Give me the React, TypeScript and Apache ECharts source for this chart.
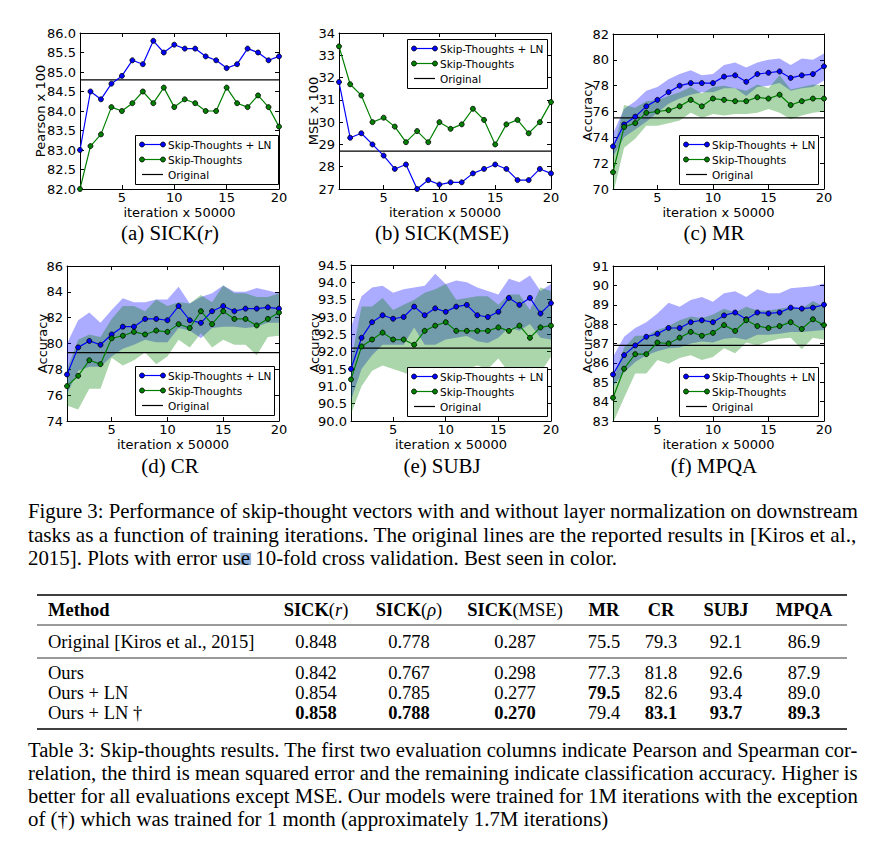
import React, { useEffect, useRef } from "react";
import * as echarts from "echarts";

// ---------------- data ----------------
const iterations = [1, 2, 3, 4, 5, 6, 7, 8, 9, 10, 11, 12, 13, 14, 15, 16, 17, 18, 19, 20];
const xTickValues = [5, 10, 15, 20];
const seriesNames = ["Skip-Thoughts + LN", "Skip-Thoughts", "Original"];

// (a) SICK(r)
const sickR_LN = [83.0, 84.5, 84.3, 84.7, 84.9, 85.3, 85.2, 85.8, 85.5, 85.7, 85.6, 85.6, 85.4, 85.3, 85.1, 85.2, 85.6, 85.5, 85.3, 85.4];
const sickR_ST = [82.0, 83.1, 83.4, 84.1, 84.0, 84.2, 84.5, 84.2, 84.6, 84.1, 84.3, 84.2, 84.0, 84.0, 84.6, 84.2, 84.1, 84.4, 84.1, 83.6];
const sickR_orig = 84.8;

// (b) SICK(MSE)
const sickMSE_LN = [31.8, 29.3, 29.5, 29.0, 28.5, 27.9, 28.1, 27.0, 27.4, 27.2, 27.3, 27.3, 27.7, 27.9, 28.1, 27.9, 27.4, 27.4, 27.9, 27.7];
const sickMSE_ST = [33.4, 31.7, 31.2, 30.0, 30.2, 29.8, 29.1, 29.6, 29.1, 30.0, 29.7, 29.9, 30.6, 30.1, 29.0, 29.9, 30.1, 29.5, 30.0, 30.9];
const sickMSE_orig = 28.7;

// (c) MR
const mr_LN = [73.3, 75.0, 75.6, 76.4, 76.9, 77.5, 78.0, 78.2, 78.2, 78.2, 78.7, 78.8, 78.3, 78.9, 79.0, 79.1, 78.6, 78.8, 78.9, 79.5];
const mr_LN_hi = [74.3, 76.2, 76.8, 77.6, 77.9, 78.5, 78.9, 79.2, 78.8, 78.9, 79.6, 79.8, 79.4, 79.8, 80.0, 80.1, 79.6, 80.1, 80.0, 80.5];
const mr_LN_lo = [72.5, 74.0, 74.6, 75.2, 75.9, 76.6, 77.0, 77.3, 77.5, 77.5, 77.8, 77.8, 77.2, 77.9, 78.0, 78.2, 77.6, 77.8, 77.9, 78.4];
const mr_ST = [71.3, 74.8, 75.1, 75.9, 76.0, 76.1, 76.4, 76.9, 76.4, 77.0, 76.9, 76.8, 76.8, 77.1, 77.0, 77.3, 76.5, 76.8, 77.0, 77.0];
const mr_ST_hi = [72.8, 76.5, 76.3, 76.8, 76.9, 77.2, 77.5, 77.9, 77.4, 77.9, 78.0, 77.8, 77.6, 78.1, 77.8, 78.8, 77.7, 77.9, 78.1, 78.0];
const mr_ST_lo = [69.6, 73.2, 73.9, 74.9, 74.9, 75.1, 75.3, 75.9, 75.5, 75.8, 75.7, 75.8, 75.8, 75.9, 76.2, 75.9, 75.4, 75.7, 75.9, 76.0];
const mr_orig = 75.5;

// (d) CR
const cr_LN = [77.6, 79.7, 80.2, 79.9, 80.7, 81.3, 81.3, 81.9, 81.9, 81.8, 82.9, 81.8, 81.6, 82.5, 82.9, 82.5, 82.7, 82.7, 82.8, 82.7];
const cr_LN_hi = [80.0, 81.8, 82.4, 81.6, 82.6, 83.5, 83.2, 83.2, 83.4, 83.4, 84.4, 83.1, 83.6, 83.9, 84.5, 84.0, 84.0, 84.3, 84.1, 83.9];
const cr_LN_lo = [76.1, 77.9, 78.2, 78.2, 79.0, 79.6, 79.9, 80.3, 80.1, 80.1, 81.2, 81.0, 80.4, 81.2, 81.3, 81.3, 81.2, 81.3, 81.6, 81.6];
const cr_ST = [76.7, 77.5, 78.7, 78.4, 80.4, 80.6, 80.9, 80.7, 81.0, 80.9, 81.5, 81.2, 82.5, 81.5, 82.5, 81.9, 81.9, 81.4, 81.9, 82.4];
const cr_ST_hi = [78.0, 80.3, 80.7, 80.5, 81.9, 82.9, 82.9, 82.5, 83.4, 82.9, 83.2, 83.1, 83.75, 83.2, 84.5, 83.9, 83.9, 83.6, 83.6, 83.9];
const cr_ST_lo = [75.2, 74.9, 76.5, 76.5, 78.9, 78.3, 78.7, 79.3, 78.4, 79.0, 80.3, 79.7, 80.8, 79.7, 80.3, 79.9, 79.9, 79.1, 80.5, 80.6];
const cr_orig = 79.3;

// (e) SUBJ
const subj_LN = [91.5, 92.4, 92.85, 93.05, 92.95, 93.0, 93.3, 93.05, 93.25, 93.15, 93.3, 93.35, 93.05, 93.0, 93.15, 93.55, 93.35, 93.55, 93.1, 93.4];
const subj_LN_hi = [92.7, 93.6, 93.85, 93.9, 93.7, 93.8, 93.85, 93.9, 94.25, 93.95, 94.05, 94.0, 93.85, 93.75, 93.65, 94.1, 94.0, 94.2, 93.75, 93.95];
const subj_LN_lo = [90.6, 91.5, 91.9, 92.2, 92.2, 92.2, 92.7, 92.2, 92.2, 92.35, 92.4, 92.45, 92.3, 92.25, 92.4, 92.7, 92.6, 92.8, 92.4, 92.35];
const subj_ST = [91.2, 92.15, 92.35, 92.55, 92.35, 92.35, 92.2, 92.6, 92.75, 92.85, 92.6, 92.6, 92.6, 92.6, 92.7, 92.6, 92.75, 92.4, 92.7, 92.75];
const subj_ST_hi = [91.7, 93.3, 93.3, 93.55, 93.2, 93.35, 93.5, 93.7, 93.8, 93.95, 93.5, 93.55, 93.6, 93.6, 93.35, 93.65, 93.65, 93.2, 93.85, 93.75];
const subj_ST_lo = [90.2, 91.0, 91.45, 91.6, 91.5, 91.4, 91.3, 91.5, 91.5, 91.5, 91.5, 91.5, 91.6, 91.5, 91.8, 91.4, 91.55, 91.35, 91.4, 91.85];
const subj_orig = 92.1;

// (f) MPQA
const mpqa_LN = [85.4, 86.4, 86.9, 87.35, 87.5, 87.8, 87.8, 88.1, 88.2, 88.1, 88.45, 88.6, 88.25, 88.6, 88.55, 88.6, 88.85, 88.8, 88.85, 89.0];
const mpqa_LN_hi = [86.3, 87.35, 87.8, 88.1, 88.55, 89.1, 88.9, 89.25, 89.4, 89.15, 89.6, 89.7, 89.4, 89.8, 89.6, 89.6, 89.85, 89.9, 89.95, 90.1];
const mpqa_LN_lo = [84.8, 85.5, 86.05, 86.4, 86.6, 86.75, 86.8, 87.0, 87.1, 87.05, 87.25, 87.3, 87.2, 87.45, 87.45, 87.5, 87.6, 87.6, 87.65, 87.7];
const mpqa_ST = [84.2, 85.7, 86.45, 86.45, 87.05, 87.0, 87.3, 87.6, 87.4, 87.55, 87.95, 87.65, 88.2, 87.9, 87.8, 87.9, 88.1, 87.75, 88.25, 87.95];
const mpqa_ST_hi = [85.1, 86.8, 87.4, 87.4, 87.7, 87.9, 88.2, 88.4, 88.3, 88.5, 88.8, 88.6, 88.9, 88.7, 88.7, 88.8, 88.9, 88.8, 89.2, 88.9];
const mpqa_ST_lo = [82.9, 84.2, 85.45, 85.45, 86.15, 85.95, 86.25, 86.4, 86.15, 86.3, 86.75, 86.5, 87.05, 86.9, 87.1, 87.25, 87.3, 86.7, 87.3, 87.2];
const mpqa_orig = 86.9;

// texts
const xAxisTitle = "iteration x 50000";
const figureCaptionLines = [
  "Figure 3: Performance of skip-thought vectors with and without layer normalization on downstream",
  "tasks as a function of training iterations. The original lines are the reported results in [Kiros et al.,",
  "2015]. Plots with error use 10-fold cross validation. Best seen in color.",
];
const tableCaptionLines = [
  "Table 3: Skip-thoughts results. The first two evaluation columns indicate Pearson and Spearman cor-",
  "relation, the third is mean squared error and the remaining indicate classification accuracy. Higher is",
  "better for all evaluations except MSE. Our models were trained for 1M iterations with the exception",
  "of (†) which was trained for 1 month (approximately 1.7M iterations)",
];
const tableHeaderMethod = "Method";
const tableHeaderCols = ["{b|SICK}{n|(}{i|r}{n|)}", "{b|SICK}{n|(}{i|ρ}{n|)}", "{b|SICK}{n|(MSE)}", "{b|MR}", "{b|CR}", "{b|SUBJ}", "{b|MPQA}"];
const tableMethods = ["Original [Kiros et al., 2015]", "Ours", "Ours + LN", "Ours + LN †"];
const rowOriginal = ["0.848", "0.778", "0.287", "75.5", "79.3", "92.1", "86.9"];
const rowOurs = ["0.842", "0.767", "0.298", "77.3", "81.8", "92.6", "87.9"];
const rowOursLN = ["0.854", "0.785", "0.277", "79.5", "82.6", "93.4", "89.0"];
const rowOursLNDagger = ["0.858", "0.788", "0.270", "79.4", "83.1", "93.7", "89.3"];
const boldOriginal = [false, false, false, false, false, false, false];
const boldOurs = [false, false, false, false, false, false, false];
const boldOursLN = [false, false, false, true, false, false, false];
const boldOursLNDagger = [true, true, true, false, true, true, true];

// ---------------- styles / layout ----------------
const BLUE = "#0000ff";
const GREEN = "#008000";
const BLUE_BAND = "rgba(0,0,255,0.33)";
const GREEN_BAND = "rgba(0,128,0,0.33)";
const SANS = '"DejaVu Sans", Verdana, sans-serif';
const SERIF = '"Liberation Serif", "Times New Roman", serif';
const CAP_SIZE = 20;      // figure / table captions and sub-captions
const CAP_STRETCH = 1.044; // natural horizontal stretch of the reference serif text
const TABLE_SIZE = 18.5;

type Panel = {
  grid: { left: number; top: number; width: number; height: number };
  y: { min: number; max: number; interval: number; dec: number };
  yTitle: string;
  yTitleX: number;
  ln: number[];
  st: number[];
  lnBand?: [number[], number[]];
  stBand?: [number[], number[]];
  orig: number;
  legend: { x: number; y: number; w: number };
  caption: string;
  capX: number;
  capY: number;
  xTitleY: number;
};

const panels: Panel[] = [
  { grid: { left: 80, top: 33, width: 199, height: 156 }, y: { min: 82, max: 86, interval: 0.5, dec: 1 }, yTitle: "Pearson x 100", yTitleX: 40,
    ln: sickR_LN, st: sickR_ST, orig: sickR_orig, legend: { x: 135, y: 135, w: 143 }, caption: "(a) SICK({i|r})", capX: 170, capY: 233, xTitleY: 212 },
  { grid: { left: 339, top: 33, width: 212, height: 156 }, y: { min: 27, max: 34, interval: 1, dec: 0 }, yTitle: "MSE x 100", yTitleX: 313,
    ln: sickMSE_LN, st: sickMSE_ST, orig: sickMSE_orig, legend: { x: 407, y: 39, w: 140 }, caption: "(b) SICK(MSE)", capX: 442, capY: 233, xTitleY: 212 },
  { grid: { left: 613, top: 34, width: 211, height: 155 }, y: { min: 70, max: 82, interval: 2, dec: 0 }, yTitle: "Accuracy", yTitleX: 587,
    ln: mr_LN, st: mr_ST, lnBand: [mr_LN_lo, mr_LN_hi], stBand: [mr_ST_lo, mr_ST_hi], orig: mr_orig, legend: { x: 679, y: 135, w: 139 }, caption: "(c) MR", capX: 714, capY: 233, xTitleY: 212 },
  { grid: { left: 67, top: 266, width: 212, height: 155 }, y: { min: 74, max: 86, interval: 2, dec: 0 }, yTitle: "Accuracy", yTitleX: 42,
    ln: cr_LN, st: cr_ST, lnBand: [cr_LN_lo, cr_LN_hi], stBand: [cr_ST_lo, cr_ST_hi], orig: cr_orig, legend: { x: 135, y: 366, w: 139 }, caption: "(d) CR", capX: 170, capY: 466, xTitleY: 444 },
  { grid: { left: 351, top: 265, width: 200, height: 156 }, y: { min: 90, max: 94.5, interval: 0.5, dec: 1 }, yTitle: "Accuracy", yTitleX: 314,
    ln: subj_LN, st: subj_ST, lnBand: [subj_LN_lo, subj_LN_hi], stBand: [subj_ST_lo, subj_ST_hi], orig: subj_orig, legend: { x: 407, y: 367, w: 140 }, caption: "(e) SUBJ", capX: 442, capY: 466, xTitleY: 444 },
  { grid: { left: 613, top: 266, width: 211, height: 155 }, y: { min: 83, max: 91, interval: 1, dec: 0 }, yTitle: "Accuracy", yTitleX: 587,
    ln: mpqa_LN, st: mpqa_ST, lnBand: [mpqa_LN_lo, mpqa_LN_hi], stBand: [mpqa_ST_lo, mpqa_ST_hi], orig: mpqa_orig, legend: { x: 679, y: 367, w: 139 }, caption: "(f) MPQA", capX: 714, capY: 466, xTitleY: 444 },
];

let measureCtx: CanvasRenderingContext2D | null = null;
function measure(text: string, weight: string, size: number, family: string) {
  if (!measureCtx) measureCtx = document.createElement("canvas").getContext("2d");
  if (!measureCtx) return text.length * size * 0.45;
  measureCtx.font = `${weight} ${size}px ${family}`;
  return measureCtx.measureText(text).width;
}

function bandSeries(lo: number[], hi: number[], fill: string, axisIdx: number) {
  return {
    type: "custom",
    xAxisIndex: axisIdx,
    yAxisIndex: axisIdx,
    silent: true,
    z: 1,
    clip: true,
    data: iterations.map((x, i) => [x, lo[i], hi[i]]),
    encode: { x: 0, y: [1, 2] },
    renderItem: (params: any, api: any) => {
      if (params.dataIndex !== 0) return null;
      const up = iterations.map((x, i) => api.coord([x, hi[i]]));
      const dn = iterations.map((x, i) => api.coord([x, lo[i]])).reverse();
      const cs = params.coordSys;
      return {
        type: "polygon",
        shape: { points: up.concat(dn) },
        style: { fill, stroke: "none" },
        clipPath: { type: "rect", shape: { x: cs.x, y: cs.y, width: cs.width, height: cs.height } },
      };
    },
  };
}

function lineSeries(name: string, vals: number[], color: string, axisIdx: number) {
  return {
    type: "line",
    name,
    xAxisIndex: axisIdx,
    yAxisIndex: axisIdx,
    data: iterations.map((x, i) => [x, vals[i]]),
    symbol: "circle",
    symbolSize: 5,
    showSymbol: true,
    clip: true,
    z: 3,
    silent: true,
    lineStyle: { color, width: 1.2 },
    itemStyle: { color, borderColor: "#000", borderWidth: 0.8 },
  };
}

function buildOption() {
  const grids: any[] = [];
  const xAxes: any[] = [];
  const yAxes: any[] = [];
  const series: any[] = [];
  const graphics: any[] = [];

  panels.forEach((p, i) => {
    grids.push({ ...p.grid, containLabel: false, outerBoundsMode: "none", show: false });
    const axisLine = { show: true, onZero: false, lineStyle: { color: "#000", width: 1 } };
    const tick = { show: true, inside: true, length: 4, lineStyle: { color: "#000", width: 1 } };
    const labelStyle = { color: "#000", fontFamily: SANS, fontSize: 13, lineHeight: 13 };
    xAxes.push({
      gridIndex: i, type: "value", min: 1, max: 20, position: "bottom", axisLine,
      axisTick: { ...tick, customValues: xTickValues },
      axisLabel: { ...labelStyle, customValues: xTickValues, margin: 2, showMinLabel: true, showMaxLabel: true },
      splitLine: { show: false },
    });
    xAxes.push({
      gridIndex: i, type: "value", min: 1, max: 20, position: "top", axisLine,
      axisTick: { ...tick, customValues: xTickValues }, axisLabel: { show: false }, splitLine: { show: false },
    });
    yAxes.push({
      gridIndex: i, type: "value", min: p.y.min, max: p.y.max, interval: p.y.interval, position: "left", axisLine,
      axisTick: tick,
      axisLabel: { ...labelStyle, margin: 4, formatter: (v: number) => v.toFixed(p.y.dec) },
      splitLine: { show: false },
    });
    yAxes.push({
      gridIndex: i, type: "value", min: p.y.min, max: p.y.max, interval: p.y.interval, position: "right", axisLine,
      axisTick: tick, axisLabel: { show: false }, splitLine: { show: false },
    });
    const ai = 2 * i;
    if (p.lnBand) series.push(bandSeries(p.lnBand[0], p.lnBand[1], BLUE_BAND, ai));
    if (p.stBand) series.push(bandSeries(p.stBand[0], p.stBand[1], GREEN_BAND, ai));
    series.push({
      type: "line", name: seriesNames[2], xAxisIndex: ai, yAxisIndex: ai, silent: true, z: 2,
      data: [[iterations[0], p.orig], [iterations[iterations.length - 1], p.orig]],
      symbol: "none", lineStyle: { color: "#000", width: 1.2 },
    });
    series.push(lineSeries(seriesNames[0], p.ln, BLUE, ai));
    series.push(lineSeries(seriesNames[1], p.st, GREEN, ai));

    // axis titles
    graphics.push({
      type: "text", x: p.yTitleX, y: p.grid.top + p.grid.height / 2, rotation: Math.PI / 2, z: 50,
      style: { text: p.yTitle, fill: "#000", fontFamily: SANS, fontSize: 13, lineHeight: 13, textAlign: "center", textVerticalAlign: "middle" },
    });
    graphics.push({
      type: "text", x: p.grid.left + p.grid.width / 2, y: p.xTitleY, z: 50,
      style: { text: xAxisTitle, fill: "#000", fontFamily: SANS, fontSize: 13, lineHeight: 13, textAlign: "center", textVerticalAlign: "middle" },
    });
    // sub caption
    graphics.push({
      type: "text", x: p.capX, y: p.capY, z: 50, scaleX: CAP_STRETCH,
      style: {
        text: p.caption, fill: "#000", fontFamily: SERIF, fontSize: CAP_SIZE, textAlign: "center", textVerticalAlign: "middle",
        rich: { i: { fontStyle: "italic", fontFamily: SERIF, fontSize: CAP_SIZE, fill: "#000" } },
      },
    });
    // legend
    const L = p.legend;
    graphics.push({
      type: "rect", z: 100, shape: { x: L.x + 0.5, y: L.y + 0.5, width: L.w, height: 49 },
      style: { fill: "#fff", stroke: "#000", lineWidth: 1 },
    });
    const colors = [BLUE, GREEN, "#000"];
    seriesNames.forEach((nm, r) => {
      const ry = L.y + 9.5 + 15 * r;
      graphics.push({ type: "line", z: 101, shape: { x1: L.x + 7, y1: ry, x2: L.x + 28, y2: ry }, style: { stroke: colors[r], lineWidth: 1.2 } });
      if (r < 2) {
        [L.x + 7, L.x + 28].forEach((cx) =>
          graphics.push({ type: "circle", z: 102, shape: { cx, cy: ry, r: 2.5 }, style: { fill: colors[r], stroke: "#000", lineWidth: 0.8 } })
        );
      }
      graphics.push({
        type: "text", x: L.x + 33, y: ry, z: 102,
        style: { text: nm, fill: "#000", fontFamily: SANS, fontSize: 10.5, lineHeight: 11, textAlign: "left", textVerticalAlign: "middle" },
      });
    });
  });

  // ------------ captions ------------
  const capLeft = 28;
  const capWidth = 830;
  const lineScale = (t: string, justified: boolean) => {
    const w = measure(t, "normal", CAP_SIZE, SERIF);
    return justified && w > 0 ? capWidth / w : CAP_STRETCH;
  };
  const addParagraph = (lines: string[], y0: number, dy: number) => {
    lines.forEach((t, k) => {
      const sx = lineScale(t, k < lines.length - 1);
      graphics.push({
        type: "text", x: capLeft, y: y0 + dy * k, scaleX: sx, z: 50,
        style: { text: t, fill: "#000", fontFamily: SERIF, fontSize: CAP_SIZE, textAlign: "left", textVerticalAlign: "middle" },
      });
    });
  };
  // selection highlight on the "e" of "use"
  {
    const line = figureCaptionLines[2];
    const idx = line.indexOf("use ") + 2;
    const pre = measure(line.slice(0, idx), "normal", CAP_SIZE, SERIF) * CAP_STRETCH;
    const ew = measure("e", "normal", CAP_SIZE, SERIF) * CAP_STRETCH;
    graphics.push({ type: "rect", z: 40, shape: { x: capLeft + pre - 0.5, y: 553, width: ew + 1.5, height: 12 }, style: { fill: "#8fb1dc" } });
  }
  addParagraph(figureCaptionLines, 511.5, 23.5);
  addParagraph(tableCaptionLines, 750, 23);

  // ------------ table ------------
  const tLeft = 37, tRight = 847, textLeft = 48;
  const colX = [316, 409, 515, 604, 661, 726, 804];
  [[595, 1.6], [625, 0.8], [658, 0.8], [729, 1.6]].forEach(([y, lw]) =>
    graphics.push({ type: "line", z: 50, shape: { x1: tLeft, y1: y, x2: tRight, y2: y }, style: { stroke: "#000", lineWidth: lw } })
  );
  const richT = {
    b: { fontWeight: "bold", fontFamily: SERIF, fontSize: TABLE_SIZE, fill: "#000" },
    n: { fontWeight: "normal", fontFamily: SERIF, fontSize: TABLE_SIZE, fill: "#000" },
    i: { fontStyle: "italic", fontFamily: SERIF, fontSize: TABLE_SIZE, fill: "#000" },
  };
  const headerY = 610;
  graphics.push({
    type: "text", x: textLeft, y: headerY, z: 50,
    style: { text: tableHeaderMethod, fill: "#000", fontFamily: SERIF, fontSize: TABLE_SIZE, fontWeight: "bold", textAlign: "left", textVerticalAlign: "middle" },
  });
  tableHeaderCols.forEach((h, c) =>
    graphics.push({
      type: "text", x: colX[c], y: headerY, z: 50,
      style: { text: h, fill: "#000", fontFamily: SERIF, fontSize: TABLE_SIZE, textAlign: "center", textVerticalAlign: "middle", rich: richT },
    })
  );
  const rows = [rowOriginal, rowOurs, rowOursLN, rowOursLNDagger];
  const bolds = [boldOriginal, boldOurs, boldOursLN, boldOursLNDagger];
  const rowY = [642, 673, 693, 713];
  rows.forEach((row, r) => {
    graphics.push({
      type: "text", x: textLeft, y: rowY[r], z: 50,
      style: { text: tableMethods[r], fill: "#000", fontFamily: SERIF, fontSize: TABLE_SIZE, textAlign: "left", textVerticalAlign: "middle" },
    });
    row.forEach((v, c) =>
      graphics.push({
        type: "text", x: colX[c], y: rowY[r], z: 50,
        style: {
          text: v, fill: "#000", fontFamily: SERIF, fontSize: TABLE_SIZE, fontWeight: bolds[r][c] ? "bold" : "normal",
          textAlign: "center", textVerticalAlign: "middle",
        },
      })
    );
  });

  return {
    animation: false,
    backgroundColor: "#fff",
    grid: grids,
    xAxis: xAxes,
    yAxis: yAxes,
    series,
    graphic: { elements: graphics },
  };
}

export default function App() {
  const ref = useRef<HTMLDivElement>(null);
  useEffect(() => {
    const el = ref.current;
    if (!el) return;
    const chart = echarts.init(el, null, { renderer: "svg" });
    chart.setOption(buildOption() as any);
    return () => chart.dispose();
  }, []);
  return (
    <div
      ref={ref}
      style={{ position: "absolute", left: 0, top: 0, width: 875, height: 843, background: "#fff" }}
    />
  );
}
